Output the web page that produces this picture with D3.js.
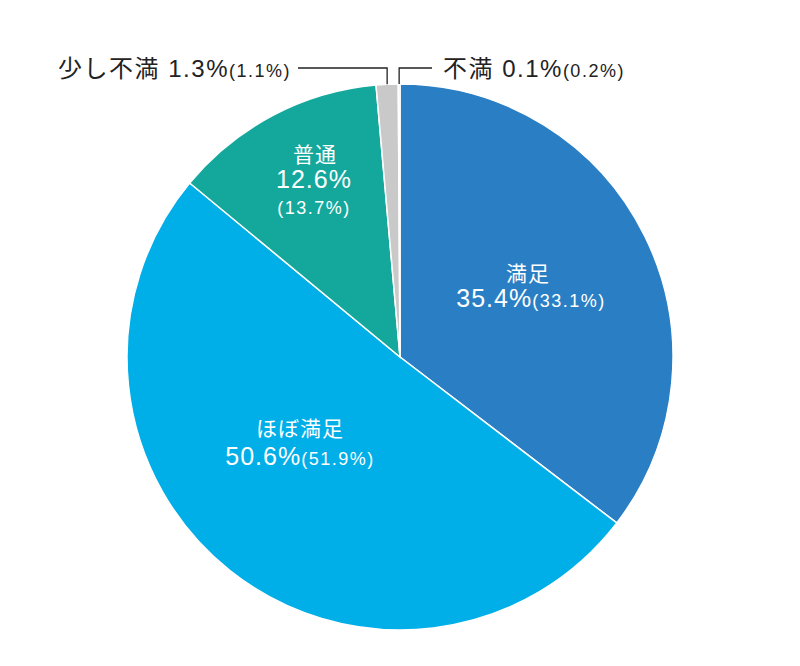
<!DOCTYPE html>
<html>
<head>
<meta charset="utf-8">
<script src="https://cdn.jsdelivr.net/npm/d3@7"></script>
<style>
  body { margin: 0; background: #fff; }
  svg text { font-family: "Liberation Sans", "Noto Sans CJK JP", sans-serif; }
</style>
</head>
<body>
<svg id="chart" width="800" height="666"></svg>
<script>
// slices, clockwise from 12 o'clock
const labels = ["満足", "ほぼ満足", "普通", "少し不満", "不満"];
const values = [35.4, 50.6, 12.6, 1.3, 0.1];
const prevValues = [33.1, 51.9, 13.7, 1.1, 0.2];
const colors = ["#2a7fc4", "#00aee8", "#14a89d", "#c9c9c9", "#b7d3ec"];

const cx = 400, cy = 357, radius = 273;

const svg = d3.select("#chart");
const g = svg.append("g").attr("transform", `translate(${cx},${cy})`);

const pie = d3.pie().sort(null).value(d => d);
const arcs = pie(values);
const arc = d3.arc().innerRadius(0).outerRadius(radius);

g.selectAll("path.slice")
  .data(arcs)
  .enter()
  .append("path")
  .attr("class", "slice")
  .attr("d", arc)
  .attr("fill", (d, i) => colors[i])
  .attr("stroke", "#fff")
  .attr("stroke-width", 1.5);

function pct(v) { return v.toFixed(1) + "%"; }

function bigText(x, y, size, spacing, str, fill) {
  return svg.append("text")
    .attr("x", x).attr("y", y)
    .attr("text-anchor", "middle")
    .attr("fill", fill)
    .attr("font-size", size)
    .attr("letter-spacing", spacing)
    .text(str);
}

function pctLine(x, y, i, fill, anchor) {
  const t = svg.append("text")
    .attr("x", x).attr("y", y)
    .attr("text-anchor", anchor || "middle")
    .attr("fill", fill);
  t.append("tspan").attr("font-size", 25).attr("letter-spacing", 1).text(pct(values[i]));
  t.append("tspan").attr("font-size", 18).attr("letter-spacing", 1.5).text("(" + pct(prevValues[i]) + ")");
  return t;
}

// 満足
bigText(528, 281, 21, 1, labels[0], "#fff");
pctLine(531, 307, 0, "#fff");

// ほぼ満足
bigText(300, 436, 21, 1, labels[1], "#fff");
pctLine(300, 465, 1, "#fff");

// 普通
bigText(315, 162, 21, 1, labels[2], "#fff");
bigText(314, 188, 25, 1, pct(values[2]), "#fff");
bigText(314, 214, 18, 1.5, "(" + pct(prevValues[2]) + ")", "#fff");

// small slices: leader lines to labels above the pie
const lineY = 68;
const leaders = [
  { i: 3, endX: 298, anchor: "end", textX: 291 },
  { i: 4, endX: 432, anchor: "start", textX: 443 }
];

leaders.forEach(l => {
  const a = (arcs[l.i].startAngle + arcs[l.i].endAngle) / 2;
  const x0 = cx + Math.sin(a) * radius;
  const y0 = cy - Math.cos(a) * radius;
  svg.append("path")
    .attr("d", `M${x0},${y0}V${lineY}H${l.endX}`)
    .attr("fill", "none")
    .attr("stroke", "#222")
    .attr("stroke-width", 1.3);
  const tx = svg.append("text")
    .attr("x", l.textX).attr("y", 77)
    .attr("text-anchor", l.anchor)
    .attr("fill", "#222");
  tx.append("tspan").attr("font-size", 24).attr("letter-spacing", 1.5).text(labels[l.i] + " " + pct(values[l.i]));
  tx.append("tspan").attr("font-size", 18).attr("letter-spacing", 1.5).text("(" + pct(prevValues[l.i]) + ")");
});
</script>
</body>
</html>
